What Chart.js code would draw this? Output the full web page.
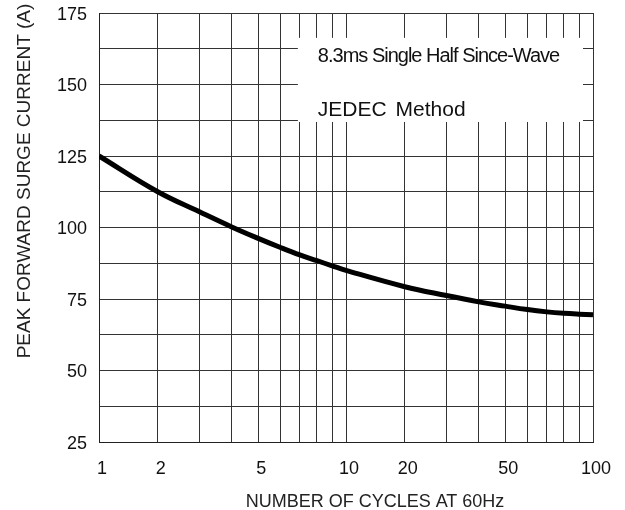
<!DOCTYPE html>
<html>
<head>
<meta charset="utf-8">
<script src="https://cdn.jsdelivr.net/npm/chart.js@4"></script>
<style>
  html, body { margin: 0; padding: 0; background: #fff; }
  canvas { display: block; }
</style>
</head>
<body>
<canvas id="surgeChart" width="625" height="510"></canvas>
<script>
// data
const cycles = [1, 2, 3, 4, 5, 6, 7, 8, 9, 10, 20, 30, 40, 50, 60, 70, 80, 90, 100];
const surgeCurrent = [125, 112.5, 105.5, 100.2, 96.2, 93, 90.4, 88.4, 86.6, 85, 79.3, 76.2, 74, 72.5, 71.3, 70.5, 70, 69.7, 69.5];
const xGridTicks = [1, 2, 3, 4, 5, 6, 7, 8, 9, 10, 20, 30, 40, 50, 60, 70, 80, 90, 100];
const xTickLabels = [1, 2, 5, 10, 20, 50, 100];
const yTickLabels = [25, 50, 75, 100, 125, 150, 175];
const noteLines = ["8.3ms Single Half Since-Wave", "JEDEC Method"];

const FONT = "'Liberation Sans', Arial, sans-serif";

// the sheet's cycle axis is not a true log: each decade is squeezed the same way
function warp(v) {
  const k = Math.floor(Math.log10(v) + 1e-9);
  const m = v / Math.pow(10, k);
  return k + Math.log10((m + 1) / 2) / Math.log10(5.5);
}

class WarpLogScale extends Chart.LogarithmicScale {
  static id = "warpLog";
  static defaults = {};
  getPixelForValue(value) {
    if (value === undefined || value === 0) value = this.min;
    if (value === null || isNaN(value)) return NaN;
    const a = warp(this.min), b = warp(this.max);
    return this.getPixelForDecimal((warp(value) - a) / (b - a));
  }
  getValueForPixel(pixel) {
    const a = warp(this.min), b = warp(this.max);
    const w = a + this.getDecimalForPixel(pixel) * (b - a);
    const k = Math.floor(w);
    const m = 2 * Math.pow(5.5, w - k) - 1;
    return m * Math.pow(10, k);
  }
}
Chart.register(WarpLogScale);

// white note box and the axis titles
const notePlugin = {
  id: "notePlugin",
  afterDatasetsDraw(chart) {
    const ctx = chart.ctx;
    const x = chart.scales.x, y = chart.scales.y;
    const left = x.getPixelForValue(7) - 2;
    const right = x.getPixelForValue(100) - 10;
    const top = y.getPixelForValue(166.3);
    const bottom = y.getPixelForValue(136.9);
    ctx.save();
    ctx.fillStyle = "#fff";
    ctx.fillRect(left, top, right - left, bottom - top);
    ctx.fillStyle = "#111";
    ctx.textBaseline = "alphabetic";
    ctx.textAlign = "left";
    ctx.font = "20px " + FONT;
    ctx.letterSpacing = "-1px";
    ctx.fillText(noteLines[0], left + 20, top + 24);
    ctx.font = "21px " + FONT;
    ctx.letterSpacing = "0px";
    ctx.wordSpacing = "3px";
    ctx.fillText(noteLines[1], left + 20, top + 78);
    ctx.restore();
  },
  afterDraw(chart) {
    const ctx = chart.ctx;
    ctx.save();
    ctx.fillStyle = "#222";
    ctx.font = "18px " + FONT;
    ctx.textAlign = "center";
    ctx.textBaseline = "alphabetic";
    ctx.fillText("NUMBER OF CYCLES AT 60Hz", 375, 507);
    ctx.font = "19px " + FONT;
    ctx.translate(30, 181);
    ctx.rotate(-Math.PI / 2);
    ctx.fillText("PEAK FORWARD SURGE CURRENT (A)", 0, 0);
    ctx.restore();
  }
};

const ctx = document.getElementById("surgeChart").getContext("2d");
new Chart(ctx, {
  type: "line",
  data: {
    datasets: [{
      data: cycles.map((c, i) => ({ x: c, y: surgeCurrent[i] })),
      borderColor: "#000",
      borderWidth: 5,
      pointRadius: 0,
      fill: false,
      tension: 0.4
    }]
  },
  options: {
    responsive: false,
    animation: false,
    layout: { padding: { top: 13, right: 32, left: 0, bottom: 0 } },
    plugins: {
      legend: { display: false },
      tooltip: { enabled: false }
    },
    scales: {
      x: {
        type: "warpLog",
        min: 1,
        max: 100,
        afterBuildTicks: (axis) => { axis.ticks = xGridTicks.map(v => ({ value: v })); },
        afterFit: (axis) => { axis.height = 68; },
        grid: { color: "#333", lineWidth: 1, drawTicks: false },
        border: { color: "#222", width: 1 },
        ticks: {
          autoSkip: false,
          maxRotation: 0,
          padding: 16,
          labelOffset: 3,
          color: "#111",
          font: { family: FONT, size: 18 },
          callback: (v) => xTickLabels.includes(v) ? String(v) : ""
        }
      },
      y: {
        type: "linear",
        min: 25,
        max: 175,
        afterFit: (axis) => {
          axis.width = 99;
          axis.paddingTop = 0;
          axis.paddingBottom = 0;
        },
        grid: { color: "#333", lineWidth: 1, drawTicks: false },
        border: { color: "#222", width: 1 },
        ticks: {
          stepSize: 12.5,
          padding: 12,
          labelOffset: 2,
          color: "#111",
          font: { family: FONT, size: 18 },
          callback: (v) => yTickLabels.includes(v) ? String(v) : ""
        }
      }
    }
  },
  plugins: [notePlugin]
});
</script>
</body>
</html>
